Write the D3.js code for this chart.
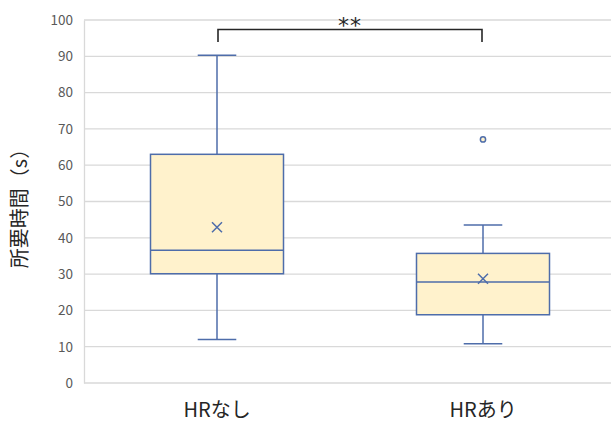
<!DOCTYPE html>
<head>
    <meta charset="utf-8">
    <script src="https://d3js.org/d3.v7.min.js"></script>
    <style>
        body { margin: 0; background: #fff; }
        text { font-family: "Noto Sans CJK JP", "Noto Sans", sans-serif; }
    </style>
</head>
<div id="my_dataviz"></div>
<script>
// data
var groups = ["HRなし", "HRあり"];
var mins = [12, 10.8];
var q1s = [30.1, 18.8];
var medians = [36.6, 27.8];
var q3s = [63, 35.7];
var maxs = [90.3, 43.5];
var means = [42.9, 28.7];
var outliers = [[], [67.1]];
var yTicks = [0, 10, 20, 30, 40, 50, 60, 70, 80, 90, 100];
var sigLabel = "**";
var sigLevel = 97.4;

var sumstat = groups.map(function(g, i) {
    return {key: g, min: mins[i], q1: q1s[i], median: medians[i], q3: q3s[i],
            max: maxs[i], mean: means[i], out: outliers[i]};
});

var margin = {top: 20, right: -5, bottom: 39, left: 84},
    width = 611 - margin.left - margin.right,
    height = 422 - margin.top - margin.bottom;

var svg = d3.select("#my_dataviz")
    .append("svg")
    .attr("width", 611)
    .attr("height", 422)
    .append("g")
    .attr("transform", "translate(" + margin.left + "," + margin.top + ")");

var x = d3.scaleBand()
    .range([0, width])
    .domain(groups)
    .padding(0);

var y = d3.scaleLinear()
    .domain([0, 100])
    .range([height, 0]);

// gridlines
svg.selectAll("grid")
    .data(yTicks)
    .enter()
    .append("line")
    .attr("x1", 0)
    .attr("x2", width)
    .attr("y1", function(d) { return y(d) })
    .attr("y2", function(d) { return y(d) })
    .attr("stroke", "#d9d9d9")
    .attr("stroke-width", 1.3);

// y axis
var yAxis = svg.append("g")
    .call(d3.axisLeft(y).tickValues(yTicks).tickSize(0).tickPadding(11));
yAxis.select(".domain").attr("stroke", "#d9d9d9").attr("stroke-width", 1.3);
yAxis.selectAll("text")
    .attr("fill", "#595959")
    .style("font-size", "13.5px");

// x axis labels
var xAxis = svg.append("g")
    .attr("transform", "translate(0," + height + ")")
    .call(d3.axisBottom(x).tickSize(0).tickPadding(20));
xAxis.select(".domain").remove();
xAxis.selectAll("text")
    .attr("fill", "#262626")
    .style("font-size", "20px");

// y title
svg.append("text")
    .attr("transform", "translate(" + (-57) + "," + (height / 2 + 2) + ") rotate(-90)")
    .attr("text-anchor", "middle")
    .attr("fill", "#262626")
    .style("font-size", "20px")
    .text("所要時間（s）");

var boxWidth = x.bandwidth() * 0.5;
var capWidth = boxWidth * 0.29;
var blue = "#4e6daa";
function cx(d) { return x(d.key) + x.bandwidth() / 2 }

// whiskers
svg.selectAll("vertLines")
    .data(sumstat)
    .enter()
    .append("line")
    .attr("x1", cx)
    .attr("x2", cx)
    .attr("y1", function(d) { return y(d.min) })
    .attr("y2", function(d) { return y(d.max) })
    .attr("stroke", blue)
    .attr("stroke-width", 1.5);

// caps
sumstat.forEach(function(d) {
    svg.selectAll("caps")
        .data([d.min, d.max])
        .enter()
        .append("line")
        .attr("x1", cx(d) - capWidth / 2)
        .attr("x2", cx(d) + capWidth / 2)
        .attr("y1", function(v) { return y(v) })
        .attr("y2", function(v) { return y(v) })
        .attr("stroke", blue)
        .attr("stroke-width", 1.5);
});

// boxes
svg.selectAll("boxes")
    .data(sumstat)
    .enter()
    .append("rect")
    .attr("x", function(d) { return cx(d) - boxWidth / 2 })
    .attr("y", function(d) { return y(d.q3) })
    .attr("height", function(d) { return y(d.q1) - y(d.q3) })
    .attr("width", boxWidth)
    .attr("stroke", blue)
    .attr("stroke-width", 1.5)
    .style("fill", "#fff2cc");

// medians
svg.selectAll("medianLines")
    .data(sumstat)
    .enter()
    .append("line")
    .attr("x1", function(d) { return cx(d) - boxWidth / 2 })
    .attr("x2", function(d) { return cx(d) + boxWidth / 2 })
    .attr("y1", function(d) { return y(d.median) })
    .attr("y2", function(d) { return y(d.median) })
    .attr("stroke", blue)
    .attr("stroke-width", 1.5);

// mean markers
svg.selectAll("means")
    .data(sumstat)
    .enter()
    .append("path")
    .attr("d", function(d) {
        var px = cx(d), py = y(d.mean), s = 5;
        return "M" + (px - s) + "," + (py - s) + "L" + (px + s) + "," + (py + s) +
               "M" + (px - s) + "," + (py + s) + "L" + (px + s) + "," + (py - s);
    })
    .attr("stroke", blue)
    .attr("stroke-width", 1.5)
    .attr("fill", "none");

// outliers
sumstat.forEach(function(d) {
    svg.selectAll("outs")
        .data(d.out)
        .enter()
        .append("circle")
        .attr("cx", cx(d))
        .attr("cy", function(v) { return y(v) })
        .attr("r", 2.6)
        .attr("stroke", blue)
        .attr("stroke-width", 1.5)
        .attr("fill", "#fff2cc");
});

// significance bracket
var bx1 = cx(sumstat[0]) + 1, bx2 = cx(sumstat[1]) - 1;
var by = y(sigLevel), drop = 12.5;
svg.append("path")
    .attr("d", "M" + bx1 + "," + (by + drop) + "V" + by + "H" + bx2 + "V" + (by + drop))
    .attr("stroke", "#262626")
    .attr("stroke-width", 1.6)
    .attr("fill", "none");

svg.append("text")
    .attr("x", (bx1 + bx2) / 2)
    .attr("y", by + 4)
    .attr("text-anchor", "middle")
    .attr("fill", "#262626")
    .style("font-family", "DejaVu Sans")
    .style("font-size", "22px")
    .style("letter-spacing", "1px")
    .text(sigLabel);
</script>
